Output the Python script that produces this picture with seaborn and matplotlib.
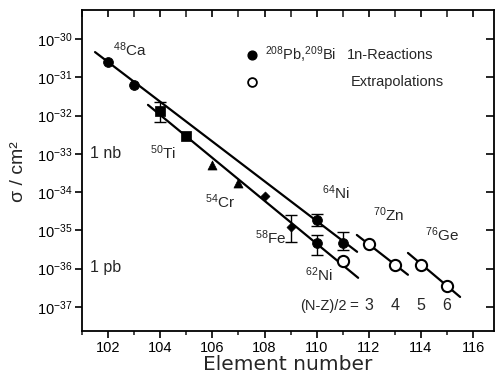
import numpy as np
import pandas as pd
import seaborn as sns
import matplotlib.pyplot as plt
import matplotlib.lines as mlines
from matplotlib.ticker import FixedLocator, LogFormatterMathtext, MultipleLocator, NullLocator

# measured cross sections, log10(sigma / cm^2)
ca_z = [102, 103]
ca_log = [-30.60, -31.21]
ti_z = [104, 105]
ti_log = [-31.88, -32.53]
cr_z = [106, 107]
cr_log = [-33.29, -33.75]
fe_z = [108, 109]
fe_log = [-34.11, -34.90]
ni_z = [110, 110, 111]
ni_log = [-34.74, -35.34, -35.34]

# extrapolated values
extrap_z = [111, 112, 113, 114, 115]
extrap_log = [-35.80, -35.36, -35.90, -35.90, -36.45]

# error bars (z, low, high)
err_z = [104, 109, 110, 110, 111]
err_low = [-32.16, -35.31, -34.88, -35.64, -35.50]
err_high = [-31.64, -34.60, -34.57, -35.12, -35.03]

# systematics lines for (N-Z)/2 = 3, 4, 5, 6
fit_nz = [3, 3, 4, 4, 5, 5, 6, 6]
fit_z = [103.53, 111.59, 101.5, 111.55, 111.54, 113.5, 113.5, 115.5]
fit_log = [-31.72, -36.24, -30.34, -35.56, -35.12, -36.16, -35.59, -36.74]

y_decades = [-30, -31, -32, -33, -34, -35, -36, -37]
nz_labels = ["3", "4", "5", "6"]
nz_label_z = [112, 113, 114, 115]

sns.set_style("ticks")
plt.rcParams["font.family"] = ["Liberation Sans", "DejaVu Sans"]
plt.rcParams["mathtext.fontset"] = "custom"
plt.rcParams["mathtext.rm"] = "Liberation Sans"
plt.rcParams["mathtext.default"] = "regular"

fig = plt.figure(figsize=(4.95, 3.8), dpi=100)
ax = fig.add_axes([82 / 495, 1 - 331 / 380, 412 / 495, 321 / 380])

fits = pd.DataFrame({"nz": fit_nz, "z": fit_z, "sigma": 10.0 ** np.array(fit_log)})
for nz, grp in fits.groupby("nz"):
    sns.lineplot(data=grp, x="z", y="sigma", color="black", lw=1.6, ax=ax, estimator=None, sort=False)

mid = 10.0 ** ((np.array(err_low) + np.array(err_high)) / 2)
ax.errorbar(err_z, mid,
            yerr=[mid - 10.0 ** np.array(err_low), 10.0 ** np.array(err_high) - mid],
            fmt="none", ecolor="black", elinewidth=1, capsize=4, capthick=1, zorder=2)

groups = [
    (ca_z, ca_log, "o", 50),
    (ti_z, ti_log, "s", 42),
    (cr_z, cr_log, "^", 42),
    (fe_z, fe_log, "D", 22),
    (ni_z, ni_log, "o", 50),
]
for z, lg, m, s in groups:
    sns.scatterplot(x=z, y=10.0 ** np.array(lg), marker=m, s=s, color="black",
                    edgecolor="black", ax=ax, zorder=3)

sns.scatterplot(x=extrap_z, y=10.0 ** np.array(extrap_log), marker="o", s=65,
                facecolor="white", edgecolor="black", linewidth=1.5, ax=ax, zorder=3)

ax.set_yscale("log")
ax.set_xlim(101, 116.8)
ax.set_ylim(10 ** -37.63, 10 ** -29.24)

ax.yaxis.set_major_locator(FixedLocator(10.0 ** np.array(y_decades, dtype=float)))
ax.yaxis.set_major_formatter(LogFormatterMathtext())
ax.yaxis.set_minor_locator(NullLocator())
ax.xaxis.set_major_locator(MultipleLocator(2))
ax.xaxis.set_minor_locator(MultipleLocator(1))

for sp in ax.spines.values():
    sp.set_linewidth(1.3)
    sp.set_color("black")
ax.tick_params(axis="both", which="major", direction="out", length=5, width=1.2,
               labelsize=10.5, colors="black", pad=2, top=True, right=True)
ax.tick_params(axis="x", which="minor", direction="out", length=3, width=1.2, top=True)

# top and right ticks point inwards, top ticks at every element
nx_maj = len(ax.xaxis.get_majorticklocs())
nx_min = len(ax.xaxis.get_minorticklocs())
ny_maj = len(ax.yaxis.get_majorticklocs())
for t in ax.xaxis.get_major_ticks(nx_maj) + ax.xaxis.get_minor_ticks(nx_min):
    t.tick2line.set_marker(mlines.TICKDOWN)
    t.tick2line.set_markersize(5)
for t in ax.yaxis.get_major_ticks(ny_maj):
    t.tick2line.set_marker(mlines.TICKLEFT)
    t.tick2line.set_markersize(6)

ax.set_xlabel("Element number", fontsize=14.5, family="DejaVu Sans")
ax.xaxis.set_label_coords(0.5, -0.075)
ax.set_ylabel("σ / cm²", fontsize=14)
ax.yaxis.set_label_coords(-0.133, 0.495)

def lab(x, lg, s, size=11, ha="left", **kw):
    ax.text(x, 10.0 ** lg, s, fontsize=size, ha=ha, va="center", **kw)

lab(102.19, -30.29, r"$^{48}$Ca")
lab(103.61, -32.98, r"$^{50}$Ti")
lab(105.72, -34.26, r"$^{54}$Cr")
lab(107.64, -35.20, r"$^{58}$Fe")
lab(110.21, -34.02, r"$^{64}$Ni")
lab(109.56, -36.16, r"$^{62}$Ni")
lab(112.16, -34.60, r"$^{70}$Zn")
lab(114.16, -35.12, r"$^{76}$Ge")
lab(101.31, -32.98, "1 nb", size=11.5)
lab(101.31, -35.98, "1 pb", size=11.5)
lab(111.15, -36.97, "(N-Z)/2", size=10.5, ha="right",
    family=["Liberation Sans Narrow", "Liberation Sans"])
lab(111.42, -36.97, "=", ha="center")
for z, t in zip(nz_label_z, nz_labels):
    lab(z, -36.97, t, size=11.5, ha="center")

# legend drawn by hand
ax.scatter([107.52], [10 ** -30.42], s=40, color="black", zorder=4)
ax.scatter([107.52], [10 ** -31.12], s=40, facecolor="white", edgecolor="black", linewidth=1.3, zorder=4)
lab(108.02, -30.42, r"$^{208}$Pb,$^{209}$Bi", size=10.5)
lab(111.17, -30.42, "1n-Reactions", size=10.5)
lab(111.30, -31.12, "Extrapolations", size=10.5)

fig.savefig("out.png", dpi=100)
